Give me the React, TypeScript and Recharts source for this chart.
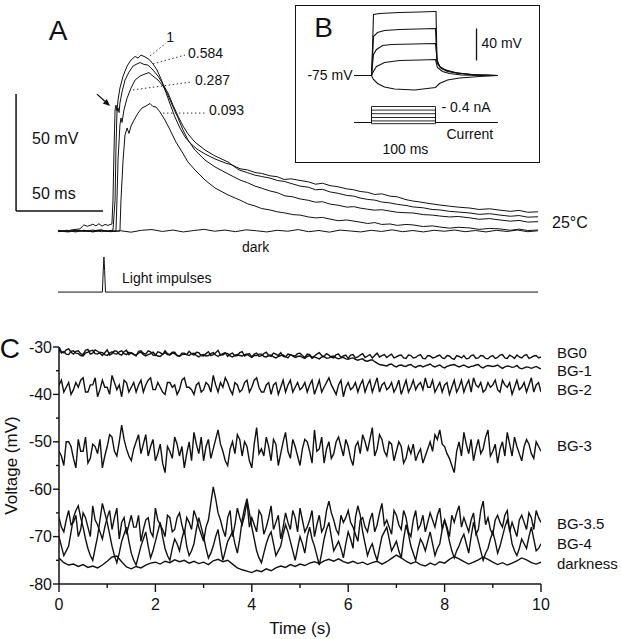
import React from "react";
import { LineChart, Line, XAxis, YAxis, ReferenceLine, ReferenceDot } from "recharts";

const FONT = "'Liberation Sans', Arial, Helvetica, sans-serif";
const INK = "#111";

// ---------- Panel A: responses to light impulses (t in ms, v in mV above dark level) ----------
const TRACE_1 = [
  [0, 0.3], [4, -0.3], [8, 0.5], [12.6, 0.9], [14.9, 2.6], [17, 2.0], [18.4, 2.4], [20, 2.9], [21.8, 2.2], [23.5, 3.1],
  [25.3, 2.1], [27, 2.8], [28.7, 2.4], [31.0, 3.0], [31.6, 13.2], [32.2, 34.6], [32.8, 51.7], [33.3, 53.8], [33.9, 51.2], [34.5, 56.0],
  [35.6, 61.1], [37.4, 66.2], [39.7, 70.5], [42.0, 73.1], [44.3, 74.6], [46.0, 73.9], [47.7, 75.2], [50.0, 74.4], [52.3, 73.4], [54.6, 71.4],
  [56.9, 68.8], [59.2, 65.0], [61.5, 60.3], [64.4, 54.3], [67.2, 48.7], [70.1, 44.0], [73.0, 40.2], [75.9, 37.6], [79.9, 35.0], [84.5, 32.9],
  [90.2, 30.8], [96.0, 29.1], [100, 28.2], [104.6, 26.6], [109, 26.1], [113.2, 25.0], [117, 24.6], [121.8, 23.6], [126, 23.2], [130, 22.0],
  [134, 22.3], [139.1, 21.6], [144, 21.0], [148, 20.0], [152, 20.4], [156.3, 19.4], [161, 18.9], [166, 18.0], [170, 17.6], [173.6, 16.9],
  [178, 16.5], [182, 15.6], [186, 15.9], [190.8, 14.9], [195, 14.6], [200, 13.4], [204, 12.8], [208, 12.4], [212, 11.9], [219.5, 11.1],
  [225, 10.6], [230, 10.2], [236.8, 9.8], [242, 9.2], [248, 9.5], [254, 8.9], [260, 8.4], [265, 8.8], [270, 8.0], [275.9, 8.2],
];
const TRACE_584 = [
  [0, -0.2], [5, 0.3], [10, -0.4], [15, 0.2], [20, -0.3], [25, 0.4], [28, -0.2], [31.6, 0.4], [32.8, 13.2], [33.3, 34.6],
  [33.9, 50.9], [34.5, 52.6], [35.1, 50.6], [35.6, 54.7], [36.8, 59.4], [38.5, 64.5], [40.8, 67.9], [43.1, 70.5], [45.4, 71.4], [47.1, 72.0],
  [49.4, 71.2], [51.7, 70.9], [54.6, 68.8], [57.5, 66.2], [60.3, 62.8], [63.2, 59.0], [66.1, 53.8], [69.0, 49.1], [71.8, 44.9], [74.7, 41.5],
  [78.7, 38.0], [84.5, 34.6], [90.2, 32.1], [97.7, 29.5], [104, 26.1], [109, 24.9], [113, 23.9], [117, 23.3], [121.8, 22.6], [126, 21.6],
  [130, 21.2], [134, 20.3], [139.1, 19.2], [144, 18.7], [148, 17.6], [152, 17.8], [156.3, 16.7], [161, 16.1], [166, 15.2], [170, 14.9],
  [173.6, 14.1], [178, 13.5], [182, 13.2], [186, 12.4], [190.8, 12.0], [195, 11.4], [200, 10.9], [204, 10.3], [210, 9.9], [215, 9.2],
  [219.5, 9.0], [225, 8.4], [230, 8.1], [236.8, 7.7], [242, 7.1], [248, 7.4], [254, 6.8], [260, 6.3], [265, 6.6], [270, 5.9], [275.9, 6.1],
];
const TRACE_287 = [
  [0, 0.2], [5, -0.3], [10, 0.3], [15, -0.2], [20, 0.4], [25, -0.3], [30, 0.2], [33.3, 0], [33.9, 13.2], [34.5, 30.3],
  [35.6, 45.3], [36.2, 48.3], [36.8, 46.4], [37.9, 51.7], [39.7, 56.8], [42.0, 61.1], [44.3, 64.5], [47.1, 66.2], [50.0, 67.1], [52.3, 67.7],
  [54.6, 66.2], [57.5, 64.5], [60.3, 62.0], [63.2, 58.1], [66.1, 53.0], [69.0, 48.3], [71.8, 43.2], [74.7, 38.9], [78.7, 34.6], [84.5, 30.3],
  [90.2, 27.4], [97.7, 24.4], [104.6, 21.8], [109, 20.6], [113.2, 19.2], [117, 18.3], [121.8, 17.1], [126, 16.4], [130.5, 15.0], [135, 14.6],
  [139.1, 13.7], [144, 13.1], [148, 12.3], [152, 12.5], [156.3, 11.5], [161, 11.0], [166, 10.2], [170, 10.4], [173.6, 9.8], [178, 9.3],
  [182, 8.9], [186, 9.1], [190.8, 8.5], [195, 8.0], [200, 7.8], [204, 7.7], [210, 7.0], [215, 6.8], [219.5, 6.4], [225, 6.0],
  [230, 6.2], [236.8, 5.6], [242, 5.0], [248, 5.3], [254, 4.7], [260, 4.2], [265, 4.5], [270, 3.8], [275.9, 4.0],
];
const TRACE_093 = [
  [0, -0.3], [5, 0.2], [10, -0.2], [15, 0.3], [20, -0.4], [25, 0.2], [30, -0.2], [35.6, 0], [36.2, 13.2], [37.4, 30.3],
  [38.5, 41.0], [39.7, 44.0], [40.8, 41.7], [42.0, 44.9], [43.7, 47.4], [46.0, 50.4], [48.3, 52.6], [50.6, 53.4], [52.9, 54.5], [54.6, 53.2],
  [56.3, 53.0], [58.6, 50.9], [61.5, 47.4], [64.4, 43.2], [67.8, 38.0], [71.3, 33.8], [74.7, 29.5], [78.7, 26.1], [84.5, 21.8], [90.2, 18.4],
  [97.7, 15.4], [104.6, 13.2], [109, 11.6], [113.2, 10.7], [117, 9.6], [121.8, 9.0], [126, 8.2], [130.5, 7.7], [135, 7.0], [139.1, 6.8],
  [144, 6.0], [148, 5.6], [152, 5.8], [156.3, 5.1], [161, 4.4], [166, 4.7], [173.6, 3.8], [178, 3.2], [182, 3.6], [186, 2.8],
  [190.8, 3.0], [195, 2.4], [200, 2.8], [204, 2.6], [210, 1.9], [215, 2.2], [219.5, 1.7], [225, 1.2], [230, 1.6], [236.8, 1.3],
  [242, 0.7], [248, 1.1], [254, 0.9], [260, 0.3], [265, 0.8], [270, 0.2], [275.9, 0.4],
];
const TRACE_DARK = [
  [0, 0.2], [6, -0.4], [12, 0.3], [18, -0.2], [24, 0.5], [30, -0.3], [36, 0.1], [42, -0.5], [48, 0.3], [54, 0.6],
  [60, -0.2], [66, 0.4], [72, -0.4], [78, 0.2], [84, 0.7], [90, -0.1], [96, 0.4], [102, -0.3], [108, 0.5], [114, 0.1],
  [120, -0.4], [126, 0.3], [132, -0.1], [138, 0.6], [144, -0.3], [150, 0.2], [156, -0.5], [162, 0.4], [168, 0], [174, -0.4],
  [180, 0.3], [186, -0.2], [192, 0.5], [198, -0.3], [204, 0.2], [210, -0.4], [216, 0.3], [222, -0.1], [228, 0.4], [234, -0.3],
  [240, 0.2], [246, -0.4], [252, 0.3], [258, -0.2], [264, 0.4], [270, -0.3], [275.9, 0.1],
];
const LIGHT_PULSE = [[0, -26.1], [25.5, -26.1], [26.0, -17], [26.4, -11.1], [26.8, -17], [27.3, -26.1], [275.9, -26.1]];
const A_TRACES = [TRACE_DARK, TRACE_093, TRACE_287, TRACE_584, TRACE_1, LIGHT_PULSE];

// labels of the relative light intensities, with the peak each leader starts from
const A_INTENSITY = ["1", "0.584", "0.287", "0.093"];
const A_LEADER_FROM = [[52.9, 74.8], [54.6, 71.4], [43.1, 60.3], [60.3, 50.4]];
const A_LEADER_TO = [[62.1, 80.3], [73.0, 75.2], [77.0, 63.7], [84.5, 50.4]];
const A_LABEL_AT = [[64.4, 82.9], [74.7, 76.1], [78.7, 64.5], [86.8, 51.7]];

// ---------- Panel B inset: current-clamp steps (t in ms, v in mV, current in nA) ----------
const STEP_V1 = [[-26.6, -75], [0, -75], [1.6, -40], [3.1, 1.2], [12.5, 2.5], [43.8, 3.8], [75, 4.4], [98.4, 5], [100.8, 5], [102.3, -55], [106.3, -63.8], [114, -67.5], [129.7, -71.3], [153, -73.8], [196.9, -75]];
const STEP_V2 = [[-26.6, -75], [0, -75], [2, -45], [3.1, -26.3], [9.4, -21.3], [20.3, -18.8], [43.8, -17.5], [100, -16.3], [102.3, -57.5], [107.8, -65], [117.2, -68.8], [134.4, -71.9], [161, -74], [196.9, -75]];
const STEP_V3 = [[-26.6, -75], [0, -75], [3.1, -48.8], [7.8, -42.5], [17.2, -37.5], [31.3, -36.3], [100, -35], [103, -60], [109.4, -66.3], [118.8, -70], [137.5, -72.5], [165.6, -74.4], [196.9, -75]];
const STEP_V4 = [[-26.6, -75], [0, -75], [3.1, -69.6], [7.8, -63.8], [20.3, -58.8], [43.8, -56.3], [75, -55.6], [100, -55], [103, -65], [110.9, -70], [121.9, -72.5], [140.6, -74.4], [168.8, -75], [196.9, -75]];
const STEP_V5 = [[-26.6, -75], [0, -75], [3.1, -80], [9.4, -85], [20.3, -89.4], [35.9, -91.9], [67.2, -93.1], [100, -90], [106.3, -85], [118.8, -80.6], [137.5, -78.1], [168.8, -76.3], [196.9, -75]];
const B_VOLTAGE = [STEP_V1, STEP_V2, STEP_V3, STEP_V4, STEP_V5];
const CURRENT_NA = [0.4, 0.31, 0.22, 0.125, 0.04, -0.03];
const STEP_ON_MS = 0;
const STEP_OFF_MS = 100;
const TRACE_SPAN_MS = [-26.6, 196.9];

// ---------- Panel C: membrane voltage in backgrounds (t in s, v in mV) ----------
// samples at 0.0, 0.1, ... 10.0 s
const BG0 = [
  -30.0, -31.2, -30.4, -31.5, -30.8, -31.6, -30.5, -31.3, -30.9, -31.8,
  -30.6, -31.4, -30.9, -31.7, -30.7, -31.2, -31.9, -30.8, -31.5, -31.0,
  -31.8, -31.2, -30.8, -31.6, -31.1, -32.0, -31.3, -30.9, -31.7, -31.2,
  -31.9, -31.0, -31.6, -30.7, -31.4, -32.0, -31.3, -31.8, -31.0, -31.6,
  -32.1, -31.3, -31.8, -31.1, -32.0, -31.5, -31.2, -32.1, -31.6, -31.9,
  -31.3, -32.2, -31.6, -31.9, -31.2, -32.0, -31.7, -32.3, -31.5, -31.9,
  -32.4, -31.6, -32.1, -31.4, -31.9, -32.3, -31.3, -31.8, -32.2, -31.5,
  -32.1, -31.7, -32.4, -31.8, -32.2, -31.6, -32.5, -31.9, -32.2, -31.7,
  -32.4, -31.9, -32.6, -32.0, -31.8, -32.4, -31.7, -32.3, -31.9, -32.5,
  -31.8, -32.2, -31.6, -32.4, -32.0, -31.7, -32.3, -31.6, -32.2, -31.8,
  -32.1,
];
const BG1 = [
  -30.5, -31.0, -31.6, -30.8, -31.4, -31.9, -31.1, -30.7, -31.5, -31.2,
  -31.8, -31.0, -31.5, -30.8, -31.6, -31.3, -31.7, -31.1, -31.9, -31.4,
  -31.6, -32.0, -31.2, -31.7, -31.4, -31.9, -31.5, -31.8, -31.3, -32.1,
  -31.6, -31.8, -31.2, -32.0, -31.7, -31.4, -32.1, -31.6, -31.9, -31.5,
  -32.2, -31.8, -31.5, -32.1, -31.7, -32.3, -31.8, -32.0, -31.6, -32.2,
  -31.9, -32.4, -31.8, -32.1, -32.5, -32.0, -32.3, -31.9, -32.5, -32.2,
  -32.6, -32.3, -32.8, -32.5, -33.0, -32.7, -33.4, -33.8, -34.0, -33.6,
  -34.2, -33.8, -34.1, -33.7, -34.3, -33.9, -34.0, -33.6, -34.2, -33.8,
  -34.4, -33.9, -33.7, -34.2, -33.8, -34.3, -34.0, -33.7, -34.4, -33.9,
  -34.1, -33.8, -34.5, -34.0, -34.3, -33.9, -34.6, -34.2, -34.5, -34.1,
  -34.6,
];
const BG2 = [
  -38.0, -39.5, -37.5, -39.0, -38.5, -36.5, -39.5, -38.0, -40.5, -37.0,
  -38.5, -36.0, -39.0, -40.5, -37.5, -38.5, -39.5, -37.0, -38.0, -36.5,
  -39.0, -38.5, -40.0, -37.5, -38.0, -39.0, -36.5, -38.5, -40.0, -37.5,
  -39.0, -38.0, -36.0, -39.5, -38.5, -37.5, -40.0, -38.0, -39.0, -37.0,
  -38.5, -36.5, -39.5, -38.0, -40.0, -37.5, -38.5, -39.5, -37.0, -38.5,
  -39.0, -37.5, -38.0, -40.0, -37.0, -38.5, -36.5, -39.0, -38.0, -40.5,
  -37.5, -38.5, -39.5, -37.0, -38.0, -39.5, -36.5, -38.0, -39.0, -37.5,
  -38.5, -40.0, -37.0, -38.5, -39.0, -37.5, -36.5, -38.5, -39.5, -37.5,
  -38.0, -40.0, -37.0, -38.5, -39.5, -37.0, -36.5, -38.5, -39.5, -37.5,
  -38.0, -39.0, -37.0, -38.5, -40.0, -37.0, -38.5, -39.5, -36.5, -38.0,
  -39.5,
];
const BG3 = [
  -52, -55, -50, -53.5, -49.5, -52, -54.5, -50.5, -52.5, -55.5,
  -51, -49, -53, -46.5, -51.5, -54, -50, -52.5, -48.5, -51,
  -54, -50.5, -56.5, -52, -49, -53, -55.5, -50, -48, -52.5,
  -54, -49.5, -51.5, -47.5, -52, -55, -50, -48.5, -53, -51,
  -55.5, -47, -51.5, -49, -54, -50.5, -52.5, -48, -53.5, -51,
  -55, -49.5, -52, -47.5, -51.5, -54.5, -50, -52.5, -49, -53,
  -51, -55, -50, -48.5, -52, -47, -51.5, -49.5, -53, -50.5,
  -52, -51, -53.5, -52.5, -54, -51.5, -53, -50, -48.5, -47.5,
  -51, -53.5, -56.5, -50, -48, -52.5, -54, -49.5, -51.5, -47.5,
  -52, -54.5, -50, -48, -53, -51, -54, -49.5, -52.5, -50,
  -52,
];
const BG35 = [
  -66, -69, -64.5, -67, -70, -65, -68, -63.5, -67.5, -70.5,
  -66, -68.5, -64, -67, -69.5, -65.5, -68, -71, -66.5, -69,
  -64, -67.5, -70, -66, -68.5, -65, -69.5, -67, -64.5, -68,
  -71, -66.5, -59.5, -65, -68.5, -66, -70, -64, -67.5, -62.5,
  -66, -69, -65.5, -68, -63.5, -67, -70.5, -65, -68.5, -66,
  -64, -69, -66.5, -70, -65.5, -68, -62.5, -66.5, -69.5, -67,
  -64.5, -68, -71, -66, -69, -65, -67.5, -63, -66.5, -69.5,
  -65.5, -68.5, -66, -70, -64.5, -67.5, -69, -65, -68, -64,
  -66.5, -70, -67, -63.5, -66, -69, -65, -68.5, -62.5, -66,
  -69.5, -65.5, -68, -64.5, -67, -70, -65.5, -68.5, -66, -64.5,
  -67,
];
const BG4 = [
  -70, -74, -72, -66, -63.5, -68, -72.5, -75, -70, -63,
  -67, -72, -75.5, -71, -68, -73.5, -76, -72, -69, -74.5,
  -71, -67, -72.5, -75, -70.5, -73, -68.5, -74, -71.5, -66,
  -70, -74.5, -72, -68.5, -75, -71, -69, -73.5, -66.5, -62,
  -68, -73, -75.5, -71.5, -69, -74, -72, -67.5, -71, -75,
  -70, -73.5, -68, -72, -76, -70.5, -67, -73, -71, -74.5,
  -69, -72.5, -63.5, -69, -74, -71.5, -75, -70, -68, -73,
  -71, -74.5, -67.5, -72, -75, -70.5, -73, -69, -74, -71.5,
  -66.5, -71, -74.5, -72, -69.5, -73.5, -67, -71, -75, -72.5,
  -69, -73.5, -70, -66.5, -71.5, -74, -70.5, -72.5, -68, -73,
  -71.5,
];
const DARKNESS = [
  -74.5, -75.5, -76, -75.8, -76.3, -75.9, -76.5, -76.2, -76.6, -76,
  -75.2, -74.3, -74.1, -75.3, -76.4, -76.8, -76.3, -76.6, -76, -75.6,
  -75.4, -75.8, -75.2, -75.5, -74.9, -75.3, -75, -75.6, -75.2, -75.7,
  -75.4, -75.9, -75.1, -74.8, -75.3, -75, -75.8, -76.6, -77, -77.3,
  -77.6, -77.1, -77.4, -76.8, -77.2, -76.6, -76.2, -76.5, -75.9, -76.3,
  -75.8, -76.1, -75.6, -75.3, -75.7, -75.1, -74.8, -75.2, -74.7, -75.3,
  -75.6, -75.2, -75.7, -75.4, -75.9, -75.5, -75.2, -75.8, -75.3, -74.6,
  -73.9, -74.5, -75.2, -75.7, -75.3, -75.9, -76.2, -75.6, -76, -75.3,
  -75.6, -74.8, -74.2, -74.7, -75.3, -75.8, -75.4, -74.9, -74.3, -74.8,
  -75.4, -75.9, -75.5, -76, -75.6, -75.1, -74.5, -74.9, -75.5, -75.8,
  -75.4,
];
// in-between samples at 0.05, 0.15, ... 9.95 s
const BG0_MID = [
  -31.0, -30.6, -31.1, -30.9, -31.4, -30.7, -31.5, -30.6, -31.3, -31.2,
  -31.7, -30.8, -31.5, -31.0, -31.6, -31.5, -30.9, -31.3, -30.8, -31.7,
  -31.0, -31.6, -31.4, -31.1, -31.8, -31.3, -31.6, -31.4, -31.1, -31.8,
  -31.4, -31.8, -31.2, -31.7, -31.2, -31.5, -31.9, -31.2, -31.9, -31.4,
  -31.5, -32.0, -31.4, -31.8, -31.3, -31.8, -32.0, -31.5, -31.8, -31.4,
  -31.8, -31.5, -32.2, -31.5, -31.8, -31.4, -32.2, -31.6, -32.2, -31.7,
  -31.7, -32.3, -31.7, -32.2, -31.6, -31.8, -32.1, -31.6, -31.8, -32.3,
  -31.8, -32.3, -31.7, -32.3, -31.8, -32.4, -31.8, -32.3, -31.9, -32.3,
  -31.8, -32.4, -31.8, -32.3, -32.5, -31.8, -32.4, -31.8, -32.4, -32.0,
  -32.4, -31.7, -32.3, -31.7, -32.4, -32.1, -31.8, -32.4, -31.9, -32.3,
];
const BG1_MID = [
  -31.3, -31.5, -30.9, -31.3, -31.8, -31.3, -30.8, -31.4, -31.1, -31.6,
  -31.3, -31.4, -31.0, -31.4, -31.1, -31.6, -31.3, -31.6, -31.6, -31.1,
  -31.9, -31.5, -31.6, -31.3, -31.8, -31.6, -31.6, -31.4, -31.8, -31.7,
  -31.9, -31.4, -31.7, -31.6, -31.3, -31.9, -31.7, -31.8, -31.6, -31.9,
  -31.8, -31.5, -32.0, -31.8, -32.1, -32.0, -31.7, -32.3, -31.9, -32.0,
  -32.2, -32.0, -32.4, -32.3, -32.1, -32.4, -32.0, -32.3, -32.3, -32.5,
  -32.4, -32.6, -32.6, -32.9, -32.8, -33.1, -33.7, -33.9, -33.7, -34.0,
  -33.9, -34.0, -33.8, -34.1, -34.0, -34.2, -33.8, -34.0, -34.0, -34.2,
  -34.1, -33.8, -34.0, -34.0, -34.1, -34.1, -33.8, -34.2, -34.1, -34.0,
  -34.0, -34.2, -34.2, -34.1, -34.2, -34.4, -34.4, -34.3, -34.3, -34.4,
];
const BG2_MID = [
  -37, -38.5, -40, -37.5, -37, -39.5, -38, -36.5, -39, -38.5,
  -40, -37.5, -38, -37, -39.5, -37.5, -38, -39.5, -37, -39,
  -37.5, -39.5, -37.5, -38.5, -40, -37, -38.5, -39, -38, -39.5,
  -37.5, -39.5, -38, -37.5, -36.5, -39, -37.5, -39.5, -37.5, -39.5,
  -37, -38.5, -39.5, -37.5, -38, -40, -37, -38, -39.5, -37.5,
  -38.5, -39.5, -37, -38.5, -39.5, -37.5, -38, -40, -37, -38.5,
  -39, -37.5, -38, -39.5, -37, -38, -39.5, -37.5, -38.5, -39.5,
  -37, -38.5, -39.5, -37, -38, -39, -38.5, -37, -38.5, -39.5,
  -37.5, -38.5, -39.5, -37, -38, -39.5, -38, -37.5, -39, -38.5,
  -37, -39.5, -38, -37.5, -38.5, -39, -37.5, -38, -39.5, -37.5,
];
const BG3_MID = [
  -53, -50, -51, -55.5, -52, -49, -53.5, -51, -49.5, -53,
  -48.5, -52, -50, -49.5, -53, -51.5, -48.5, -50.5, -53, -49.5,
  -52.5, -54.5, -51, -53.5, -50.5, -51, -52.5, -54, -50.5, -49,
  -51, -53.5, -49.5, -50.5, -54, -51.5, -52.5, -49.5, -50, -54,
  -50.5, -52.5, -53, -51, -49.5, -55, -50, -52, -49.5, -53,
  -51.5, -50, -54.5, -52, -49, -51.5, -53.5, -50, -51, -49.5,
  -53.5, -51, -52.5, -50, -49.5, -53, -48.5, -52, -50, -54,
  -50, -54.5, -51, -50.5, -52.5, -54.5, -51.5, -52, -49.5, -50.5,
  -52.5, -55, -52, -53, -50.5, -49.5, -51.5, -52.5, -49, -53,
  -50.5, -51.5, -53, -50.5, -49, -52.5, -51, -50.5, -53.5, -51,
];
const BG35_MID = [
  -68, -66.5, -67.5, -65.5, -68.5, -66, -70, -66.5, -69, -68,
  -64.5, -66, -70.5, -66, -67.5, -68, -65.5, -68.5, -66, -70,
  -66.5, -68.5, -65.5, -69, -66, -67.5, -66, -68.5, -66, -69.5,
  -68, -63, -62, -66.5, -70, -64.5, -67.5, -66, -65.5, -68,
  -67.5, -64.5, -69.5, -66, -68.5, -65.5, -68, -67, -64.5, -69,
  -66.5, -68, -64.5, -67.5, -69, -64.5, -65, -68.5, -65.5, -66,
  -67, -69.5, -66.5, -68, -66.5, -69, -65, -67.5, -68, -64.5,
  -67.5, -64.5, -69, -66.5, -68.5, -65.5, -67, -66.5, -65.5, -68.5,
  -68, -65.5, -65, -68, -67.5, -66.5, -69.5, -64.5, -67.5, -68.5,
  -66.5, -67, -65.5, -69, -68.5, -66.5, -67, -65, -68.5, -66,
];
const BG4_MID = [
  -72, -73, -69, -64.5, -66, -70.5, -74, -72.5, -66.5, -65,
  -69.5, -74, -73.5, -69.5, -71, -75, -74, -70.5, -72, -73,
  -69, -70, -74, -72.5, -71.5, -70.5, -72, -73, -68.5, -68,
  -72.5, -73.5, -70, -72, -73, -70, -71.5, -70.5, -64, -65,
  -70.5, -74.5, -73.5, -70, -71.5, -73, -69.5, -69, -73, -72.5,
  -71.5, -70, -70.5, -74, -73.5, -68.5, -70, -72, -72.5, -71.5,
  -70.5, -66, -65.5, -71.5, -72.5, -73.5, -72.5, -69, -70.5, -72,
  -73, -70.5, -69.5, -73.5, -72.5, -71.5, -71, -71.5, -72.5, -68.5,
  -68.5, -73, -73, -70.5, -71.5, -70, -69, -73, -73.5, -70.5,
  -71, -72, -68, -68.5, -73, -72.5, -71.5, -70, -70.5, -72.5,
];
const HALF_STEP_S = 0.05;
const C_KEYS = ["dark", "bg4", "bg35", "bg3", "bg2", "bg1", "bg0"];
const C_VALUES = [DARKNESS, BG4, BG35, BG3, BG2, BG1, BG0];
const C_MID: (number[] | null)[] = [null, BG4_MID, BG35_MID, BG3_MID, BG2_MID, BG1_MID, BG0_MID];
const C_NAMES = ["darkness", "BG-4", "BG-3.5", "BG-3", "BG-2", "BG-1", "BG0"];
const C_NAME_V = [-75.8, -71.5, -67.3, -50.8, -38.9, -35.1, -31.1];
const C_X_TICKS = [0, 1, 2, 3, 4, 5, 6, 7, 8, 9, 10];
const C_Y_TICKS = [-80, -75, -70, -65, -60, -55, -50, -45, -40, -35, -30];

const toPts = (arr: number[][]) => arr.map(([t, v]) => ({ t, v }));

const cTable = Array.from({ length: BG0.length * 2 - 1 }, (_, i) => {
  const row: Record<string, number> = { t: Math.round(i * HALF_STEP_S * 1000) / 1000 };
  C_KEYS.forEach((k, s) => {
    const mid = C_MID[s];
    const v = i % 2 === 0 ? C_VALUES[s][i / 2] : mid ? mid[(i - 1) / 2] : undefined;
    if (v !== undefined) row[k] = v;
  });
  return row;
});

const currentTraces = CURRENT_NA.map((amp) => [
  { t: TRACE_SPAN_MS[0], i: 0 },
  { t: STEP_ON_MS, i: 0 },
  { t: STEP_ON_MS, i: amp },
  { t: STEP_OFF_MS, i: amp },
  { t: STEP_OFF_MS, i: 0 },
  { t: TRACE_SPAN_MS[1], i: 0 },
]);

function note(key: string, x: number, y: number, text: string, size: number, pos = "right", extra: any = {}) {
  return (
    <ReferenceDot
      key={key}
      x={x}
      y={y}
      r={0}
      fill="none"
      stroke="none"
      ifOverflow="visible"
      yAxisId={extra.yAxisId ?? 0}
      label={{ value: text, position: pos, offset: 0, fontSize: size, fill: INK, fontFamily: FONT, angle: extra.angle }}
    />
  );
}

const ArrowShape = (p: any) => {
  const { x1, y1, x2, y2 } = p;
  const a = Math.atan2(y2 - y1, x2 - x1);
  const bx = x2 - 7 * Math.cos(a);
  const by = y2 - 7 * Math.sin(a);
  const w = 3;
  const head = `${x2},${y2} ${bx - w * Math.sin(a)},${by + w * Math.cos(a)} ${bx + w * Math.sin(a)},${by - w * Math.cos(a)}`;
  return (
    <g>
      <line x1={x1} y1={y1} x2={bx} y2={by} stroke={INK} strokeWidth={1.3} />
      <polygon points={head} fill={INK} />
    </g>
  );
};

function PanelA() {
  return (
    <LineChart width={621} height={300} margin={{ top: 0, right: 0, bottom: 0, left: 0 }}>
      <XAxis type="number" dataKey="t" domain={[-33.33, 323.56]} hide allowDataOverflow />
      <YAxis type="number" domain={[-29.49, 98.72]} hide allowDataOverflow />
      {A_TRACES.map((tr, k) => (
        <Line
          key={`a${k}`}
          data={toPts(tr)}
          dataKey="v"
          type="linear"
          stroke={INK}
          strokeWidth={1}
          dot={false}
          activeDot={false}
          isAnimationActive={false}
        />
      ))}
      {/* scale bars */}
      <ReferenceLine segment={[{ x: -24.1, y: 58.5 }, { x: -24.1, y: 8.5 }]} stroke={INK} strokeWidth={1.5} />
      <ReferenceLine segment={[{ x: -24.1, y: 8.5 }, { x: 25.9, y: 8.5 }]} stroke={INK} strokeWidth={1.5} />
      <ReferenceLine segment={[{ x: 22.4, y: 58.5 }, { x: 29.9, y: 53.4 }]} shape={ArrowShape} />
      {A_INTENSITY.map((_, k) => (
        <ReferenceLine
          key={`ld${k}`}
          segment={[
            { x: A_LEADER_FROM[k][0], y: A_LEADER_FROM[k][1] },
            { x: A_LEADER_TO[k][0], y: A_LEADER_TO[k][1] },
          ]}
          stroke="#333"
          strokeWidth={1}
          strokeDasharray="1.5 2.5"
        />
      ))}
      {A_INTENSITY.map((txt, k) => note(`il${k}`, A_LABEL_AT[k][0], A_LABEL_AT[k][1], txt, 14, k === 0 ? "center" : "right"))}
      {note("A", 0, 85.9, "A", 28, "center")}
      {note("mv", -14.9, 39.7, "50 mV", 16)}
      {note("ms", -14.9, 16.2, "50 ms", 16)}
      {note("dark", 105.7, -6.8, "dark", 14)}
      {note("light", 36.8, -20.1, "Light impulses", 14)}
      {note("temp", 283.9, 3.8, "25°C", 16)}
    </LineChart>
  );
}

function PanelB() {
  return (
    <LineChart width={242} height={155} margin={{ top: 0, right: 0, bottom: 0, left: 0 }}>
      <XAxis type="number" dataKey="t" domain={[-118, 260.2]} hide allowDataOverflow />
      <YAxis type="number" domain={[-181.9, 11.9]} hide allowDataOverflow />
      <YAxis yAxisId="cur" type="number" domain={[-0.9625, 2.9125]} hide allowDataOverflow />
      {B_VOLTAGE.map((tr, k) => (
        <Line key={`bv${k}`} data={toPts(tr)} dataKey="v" stroke={INK} strokeWidth={1.1} dot={false} activeDot={false} isAnimationActive={false} />
      ))}
      {currentTraces.map((tr, k) => (
        <Line key={`bc${k}`} yAxisId="cur" data={tr} dataKey="i" stroke={INK} strokeWidth={0.9} dot={false} activeDot={false} isAnimationActive={false} />
      ))}
      <ReferenceLine segment={[{ x: 164.1, y: -16.25 }, { x: 164.1, y: -56.25 }]} stroke={INK} strokeWidth={1.3} />
      {note("B", -75, -15, "B", 28, "center")}
      {note("rest", -29.7, -75, "-75 mV", 14, "left")}
      {note("40", 171.9, -35, "40 mV", 14)}
      {note("na", 109.4, 0.38, "- 0.4 nA", 14, "right", { yAxisId: "cur" })}
      {note("cur", 117.2, -0.29, "Current", 14, "right", { yAxisId: "cur" })}
      {note("100", 53, -0.67, "100 ms", 14, "center", { yAxisId: "cur" })}
    </LineChart>
  );
}

function TimeTick(props: any) {
  const { x, y, payload } = props;
  const major = payload.value % 2 === 0;
  return (
    <g>
      <line x1={x} y1={y} x2={x} y2={y + (major ? 8 : 4)} stroke={INK} strokeWidth={1.4} />
      {major && (
        <text x={x} y={y + 26} textAnchor="middle" fontSize={16} fontFamily={FONT} fill={INK}>
          {payload.value}
        </text>
      )}
    </g>
  );
}

function VoltTick(props: any) {
  const { x, y, payload } = props;
  const major = payload.value % 10 === 0;
  return (
    <g>
      <line x1={x} y1={y} x2={x - (major ? 6 : 3)} y2={y} stroke={INK} strokeWidth={1.4} />
      {major && (
        <text x={x - 7} y={y + 5.5} textAnchor="end" fontSize={16} fontFamily={FONT} fill={INK}>
          {payload.value}
        </text>
      )}
    </g>
  );
}

function PanelC() {
  return (
    <LineChart width={621} height={309} data={cTable} margin={{ top: 17, right: 80, bottom: 0, left: 0 }}>
      <XAxis
        type="number"
        dataKey="t"
        domain={[0, 10]}
        ticks={C_X_TICKS}
        interval={0}
        allowDataOverflow
        height={55}
        tickSize={0}
        tickMargin={0}
        tickLine={false}
        tick={<TimeTick />}
        axisLine={{ stroke: INK, strokeWidth: 1.5 }}
        label={{ value: "Time (s)", position: "insideBottom", offset: 5, fontSize: 17, fill: INK, fontFamily: FONT }}
      />
      <YAxis
        type="number"
        domain={[-80, -30]}
        ticks={C_Y_TICKS}
        interval={0}
        allowDataOverflow
        width={59}
        tickSize={0}
        tickMargin={0}
        tickLine={false}
        tick={<VoltTick />}
        axisLine={{ stroke: INK, strokeWidth: 1.5 }}
        label={{
          value: "Voltage (mV)",
          angle: -90,
          position: "insideLeft",
          offset: 11,
          fontSize: 17,
          fill: INK,
          fontFamily: FONT,
          style: { textAnchor: "middle" },
        }}
      />
      {C_KEYS.map((k) => (
        <Line
          key={k}
          dataKey={k}
          stroke={INK}
          strokeWidth={1.4}
          connectNulls
          dot={false}
          activeDot={false}
          isAnimationActive={false}
        />
      ))}
      {C_NAMES.map((n, k) => note(`cn${k}`, 10.33, C_NAME_V[k], n, 15))}
      {note("C", -1.02, -30.2, "C", 28, "center")}
    </LineChart>
  );
}

export default function App() {
  return (
    <div
      style={{
        position: "absolute",
        left: 0,
        top: 0,
        width: 621,
        height: 639,
        background: "#fff",
        overflow: "hidden",
        fontFamily: FONT,
      }}
    >
      <div style={{ position: "absolute", left: 0, top: 0 }}>
        <PanelA />
      </div>
      <div
        style={{
          position: "absolute",
          left: 295,
          top: 5,
          width: 245,
          height: 158,
          border: "1.5px solid #111",
          boxSizing: "border-box",
          background: "#fff",
        }}
      >
        <PanelB />
      </div>
      <div style={{ position: "absolute", left: 0, top: 330 }}>
        <PanelC />
      </div>
    </div>
  );
}
